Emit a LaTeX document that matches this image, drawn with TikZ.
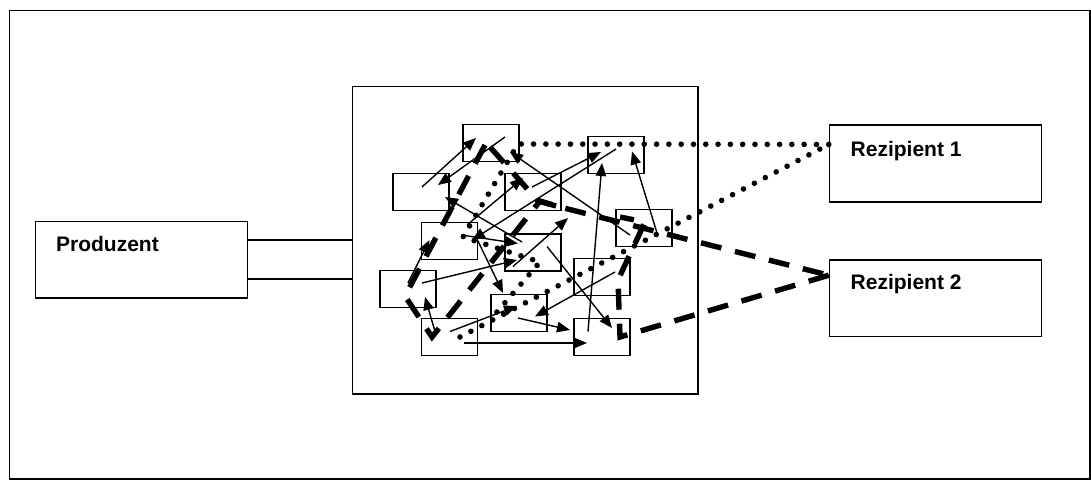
\documentclass[tikz,border=0pt]{standalone}
\usepackage{fontspec}
\setmainfont{Liberation Sans}
\usetikzlibrary{calc,arrows.meta,positioning}
\tikzset{
     box node/.style={draw, line width=1.5pt, inner sep=0pt},
     cell node/.style={box node, minimum width=55.7pt, minimum height=36.7pt},
     party node/.style={box node, minimum width=212pt, minimum height=76.6pt},
     name node/.style={font=\bfseries\fontsize{21}{25}\selectfont, anchor=base west, inner sep=0pt},
      netedge/.style   = {black, ->, >={Triangle[length=13pt,width=10.5pt]}, line width=1.4pt},
      dotroute/.style = {black, line width=5.6pt, line cap=round, dash pattern=on 0pt off 12.3pt},
      dashroute/.style = {black, line width=5.4pt, dash pattern=on 21pt off 14pt},
    }

\begin{document}
\begin{tikzpicture}[x=1pt,y=-1pt]
        \useasboundingbox (0,0) rectangle (1091,480);
        \draw[line width=1.5pt] (9.5,10.5) rectangle (1090,479);

        % producer and recipients
        \node [party node] (prod) at (141.7,259.9) {};
        \node [party node] (rez1) at (935.5,163.5) {};
        \node [party node] (rez2) at (935.5,298.3) {};
        \node [name node] (prodtxt) at ($(prod.north west)+(21,31)$) {Produzent};
        \node [name node] (rez1txt) at ($(rez1.north west)+(21.7,31.7)$) {Rezipient 1};
        \node [name node] (rez2txt) at ($(rez2.north west)+(21.7,30.7)$) {Rezipient 2};

        % network
        \node [box node, minimum width=345.3pt, minimum height=307.3pt] (net) at (525.3,240.3) {};
        \coordinate (pa) at ($(prod.east)+(0,-20)$);
        \coordinate (pb) at ($(prod.east)+(0,19)$);
        \draw[line width=1.5pt] (pa) -- (pa -| net.west);
        \draw[line width=1.5pt] (pb) -- (pb -| net.west);

        \node [cell node] (a) at (491,143)   {};
        \node [cell node] (b) at (616,155)   {};
        \node [cell node] (c) at (421,192)   {};
        \node [cell node] (d) at (533,192)   {};
        \node [cell node] (e) at (449.5,241) {};
        \node [cell node] (f) at (533,252.5) {};
        \node [cell node] (g) at (644,228)   {};
        \node [cell node] (h) at (408,289)   {};
        \node [cell node] (i) at (602,277)   {};
        \node [cell node] (j) at (519,313)   {};
        \node [cell node] (k) at (449.5,337) {};
        \node [cell node] (l) at (602,337)   {};

        \draw[netedge] ($(c)+(1,-5)$) -- ($(a)+(-15,-5)$);
        \draw[netedge] ($(a)+(14,-6)$) -- ($(c)+(17,-7)$);
        \draw[netedge] ($(f)+(-11,-10.5)$) -- ($(c)+(24,5)$);
        \draw[netedge] ($(e)+(17.5,-16)$) -- ($(d)+(-10,-14)$);
        \draw[netedge] ($(g)+(-14,7)$) -- ($(a)+(19,9)$);
        \draw[netedge] ($(d)+(-1,-5)$) -- ($(b)+(-15,-3)$);
        \draw[netedge] ($(b)+(0,-6)$) -- ($(e)+(22.5,-1)$);
        \draw[netedge] ($(e)+(12,-6)$) -- ($(f)+(-15,-9)$);
        \draw[netedge] ($(h)+(14,-6)$) -- ($(f)+(-16,7.5)$);
        \draw[netedge] ($(h)+(0,-6)$) -- ($(e)+(-20,-1)$);
        \draw[netedge] ($(f)+(-20,14)$) -- ($(d)+(35,26)$);
        \draw[netedge] ($(e)+(27,-3)$) -- ($(j)+(-16,-20)$);
        \draw[netedge] ($(k)+(-14.5,-5.5)$) -- ($(h)+(17,8)$);
        \draw[netedge] ($(k)+(0.5,-5.5)$) -- ($(j)+(-2,-7)$);
        \draw[netedge] ($(i)+(13,-5)$) -- ($(j)+(16,3.5)$);
        \draw[netedge] ($(j)+(-1,5)$) -- ($(l)+(-32,-7)$);
        \draw[netedge] ($(k)+(14,6)$) -- ($(l)+(-15,6)$);
        \draw[netedge] ($(f)+(14,-6)$) -- ($(l)+(10,-9)$);
        \draw[netedge] ($(l)+(-14,-5.5)$) -- ($(b)+(-14,8)$);
        \draw[netedge] ($(g)+(13,5)$) -- ($(b)+(16,-3.5)$);

        % routes to the recipients
        \coordinate (r1) at ($(rez1.north west)+(0,20)$);
        \coordinate (r2) at ($(rez2.north west)+(0,16)$);
        \draw[dotroute] (r1) -- ($(a)+(27,1)$) -- ($(e)+(13.5,-4)$) -- ($(f)+(7,9.5)$) -- ($(j)+(-29,7)$);
        \draw[dotroute] ($(k)+(10.5,0)$) -- (r1);
        \draw[dashroute] ($(a)+(-6,2)$) -- ($(h)+(-3,7)$) -- ($(k)+(-17.5,0)$) -- ($(d)+(7,9)$) -- ($(d)+(27,15)$) -- (r2);
        \draw[dashroute] ($(a)+(-1,4)$) -- ($(d)+(5,9)$) -- ($(d)+(27,15)$);
        \draw[dashroute] (r2) -- ($(l)+(18,0)$) -- ($(i)+(16,3)$) -- ($(g)+(1,-6)$) -- ($(g)+(-24,-11)$);
    \end{tikzpicture}
\end{document}
